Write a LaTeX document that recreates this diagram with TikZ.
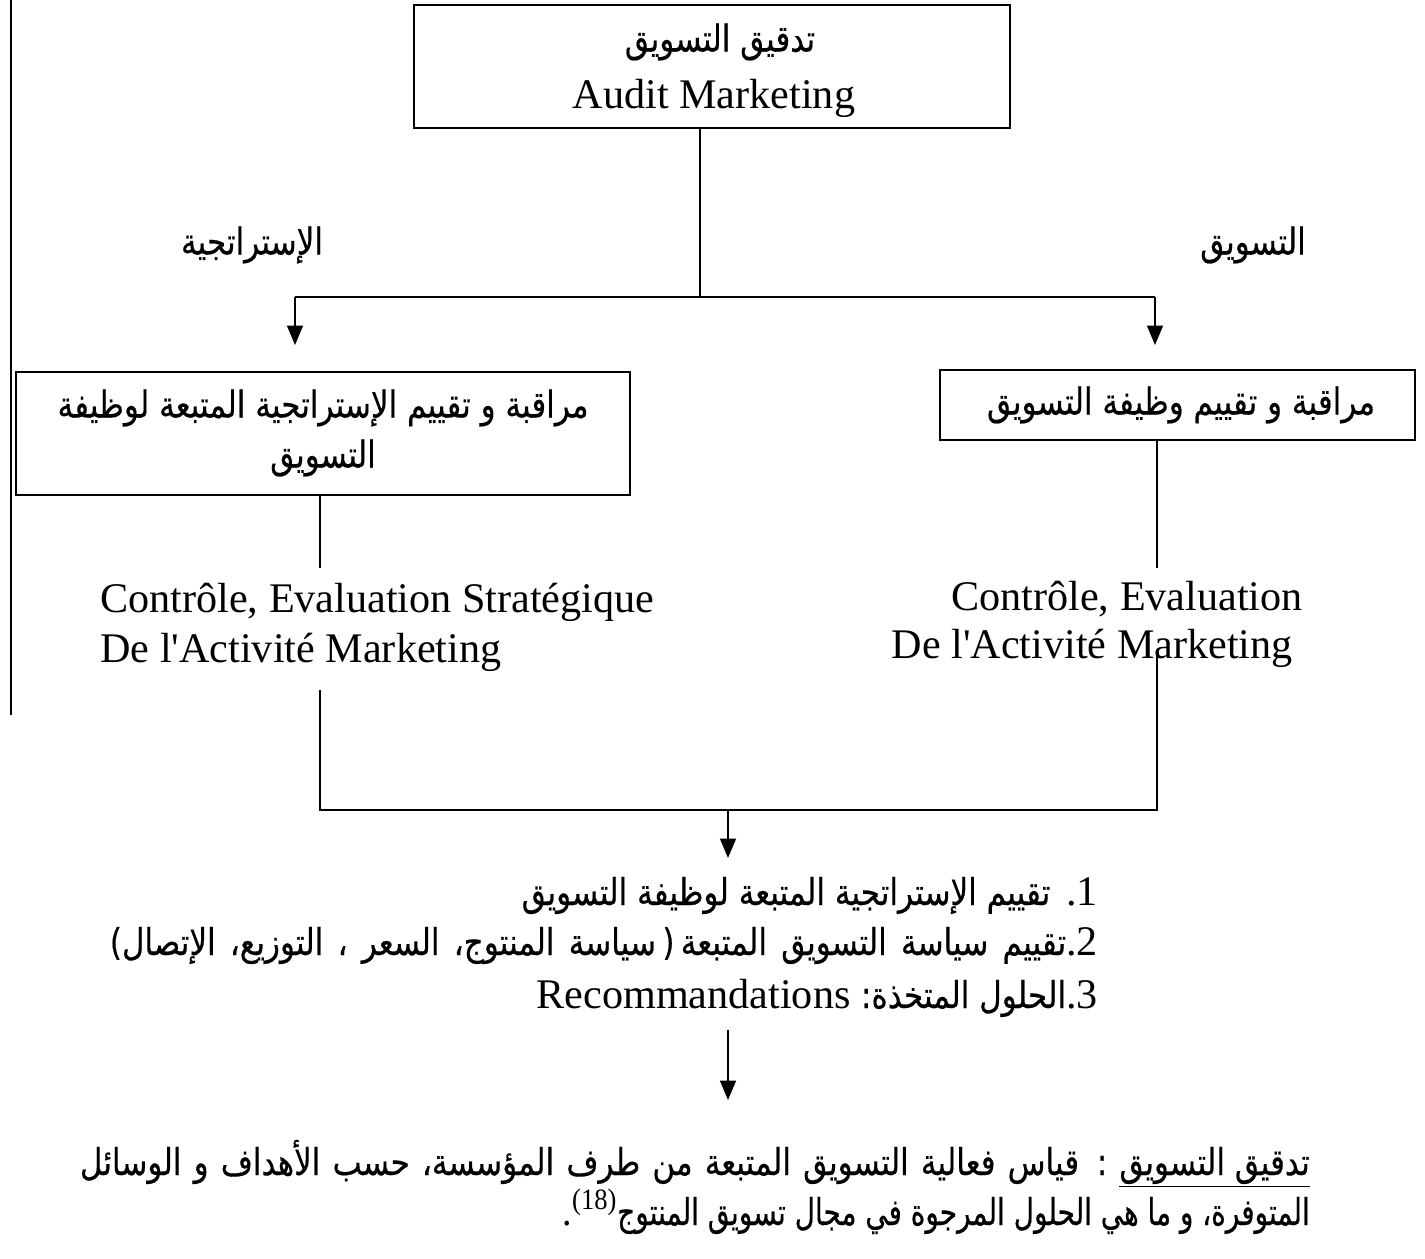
\documentclass[tikz,border=0pt]{standalone}
\usepackage{fontspec}
\setmainfont{Liberation Serif}[Ligatures=TeXOff]
\newfontfamily\arabicfont[Script=Arabic,FakeStretch=0.84,FakeBold=0.4]{DejaVu Sans}
\TeXXeTstate=1
\usetikzlibrary{arrows.meta}
\newcommand\arsize{\fontsize{21}{25}\selectfont}
\newcommand\ar[1]{{\arabicfont\arsize\beginR #1\endR}}
\newcommand\af[1]{{\arabicfont\arsize #1}}
\newcommand\lt{\fontsize{24}{28}\selectfont}
\tikzset{
  box/.style={draw, line width=1pt, inner sep=0pt},
  conn/.style={line width=1pt},
  arr/.style={conn, -{Triangle[width=9pt,length=11pt]}},
  txt/.style={inner sep=0pt},
}
\begin{document}
\begin{tikzpicture}[x=0.02cm,y=-0.02cm]
\useasboundingbox (0,0) rectangle (1425,1258);
% page edge line
\coordinate (pe1) at (11,0);
\coordinate (pe2) at (11,715);
\draw[conn] (pe1) -- (pe2);
% boxes
\node[box, minimum width=11.92cm, minimum height=2.46cm] (audit) at (712,66.5) {};
\node[box, minimum width=12.28cm, minimum height=2.46cm] (strat) at (323,433.5) {};
\node[box, minimum width=9.5cm, minimum height=1.4cm] (mkt) at (1177.5,405) {};
% box texts
\node[txt] (auditAr) at (720,42) {\ar{تدقيق التسويق}};
\node[txt, anchor=base] (auditLt) at (714,108) {\lt Audit Marketing};
\node[txt] (stratAr1) at (323,408) {\ar{مراقبة و تقييم الإستراتجية المتبعة لوظيفة}};
\node[txt] (stratAr2) at (323,458) {\ar{التسويق}};
\node[txt] (mktAr) at (1181,405) {\ar{مراقبة و تقييم وظيفة التسويق}};
% labels
\node[txt] (lblS) at (252,245) {\ar{الإستراتجية}};
\node[txt] (lblM) at (1253,245) {\ar{التسويق}};
% upper connectors
\coordinate (jT) at (700,297);
\coordinate (jL) at (295,297);
\coordinate (jR) at (1155,297);
\coordinate (aL) at (295,345);
\coordinate (aR) at (1155,345);
\draw[conn] (audit.south -| jT) -- (jT);
\draw[conn] (jL) -- (jR);
\draw[arr] (jL) -- (aL);
\draw[arr] (jR) -- (aR);
% middle texts
\node[txt, anchor=base west] (cl1) at (100,612) {\lt Contrôle, Evaluation Stratégique};
\node[txt, anchor=base west] (cl2) at (100,662) {\lt De l'Activité Marketing};
\node[txt, anchor=base east] (cr1) at (1303,610) {\lt Contrôle, Evaluation};
\node[txt, anchor=base east] (cr2) at (1293,658) {\lt De l'Activité Marketing};
% lines from boxes to texts
\coordinate (sL) at (320,568);
\coordinate (sR) at (1157,568);
\draw[conn] (strat.south -| sL) -- (sL);
\draw[conn] (mkt.south -| sR) -- (sR);
% lower join
\coordinate (uL) at (320,690);
\coordinate (uR) at (1157,652);
\coordinate (bL) at (320,810);
\coordinate (bR) at (1157,810);
\coordinate (bM) at (728,810);
\coordinate (aM) at (728,858);
\draw[conn] (uL) -- (bL) -- (bR) -- (uR);
\draw[arr] (bM) -- (aM);
% list
\node[txt, anchor=base east] (li1) at (1098,905) {\ar{تقييم الإستراتجية المتبعة لوظيفة التسويق}\hspace{9pt}{\lt .1}};
\node[txt, anchor=base east] (li2) at (1098,955) {\makebox[19.76cm][s]{\af{)}\ar{سياسة المنتوج، السعر ، التوزيع، الإتصال}\ \af{(}\ \ar{تقييم سياسة التسويق المتبعة}{\lt .2}}};
\node[txt, anchor=base east] (li3) at (1098,1008) {{\lt Recommandations }\ar{الحلول المتخذة:}{\lt .3}};
% second arrow
\coordinate (a2s) at (728,1030);
\coordinate (a2e) at (728,1100);
\draw[arr] (a2s) -- (a2e);
% bottom paragraph
\node[txt, anchor=base east] (def1) at (1310,1175) {\makebox[24.6cm][s]{\ar{\underline{\ar{تدقيق التسويق}} : قياس فعالية التسويق المتبعة من طرف المؤسسة، حسب الأهداف و الوسائل}}};
\node[txt, anchor=base east] (def2) at (1310,1225) {\scalebox{0.9}[1]{{\lt .\textsuperscript{(18)}}\ar{المتوفرة، و ما هي الحلول المرجوة في مجال تسويق المنتوج}}};
\end{tikzpicture}
\end{document}
